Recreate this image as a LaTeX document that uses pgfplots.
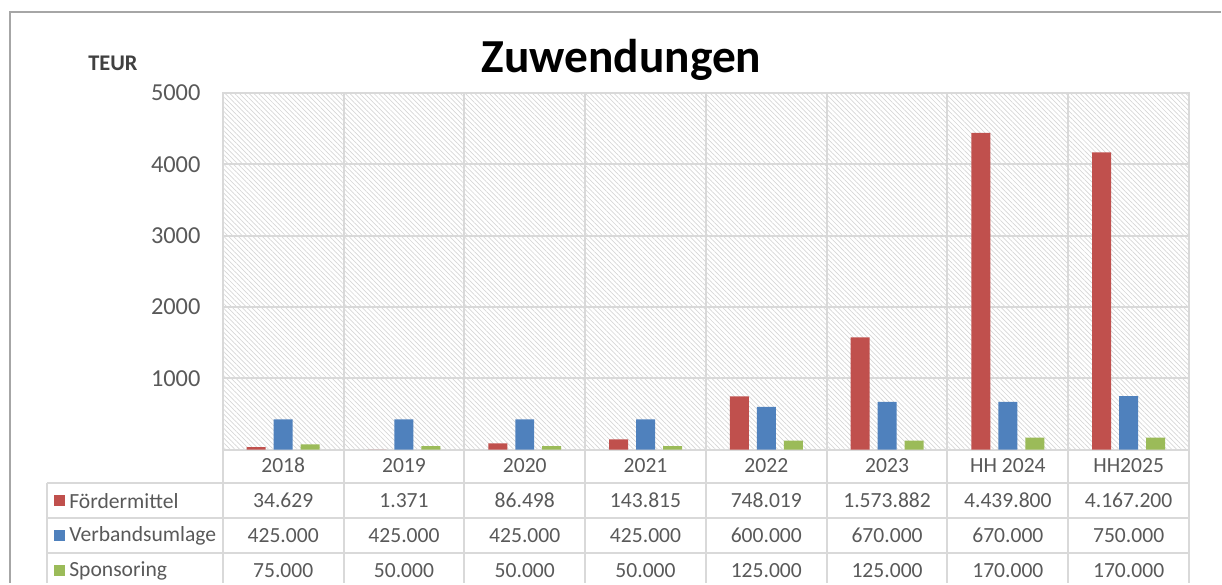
\documentclass[border=0pt]{standalone}
\usepackage{pgfplots}
\pgfplotsset{compat=1.18}
\usepackage{fontspec}
\setmainfont{Carlito}
\usetikzlibrary{patterns.meta}
\definecolor{cRed}{HTML}{C0504D}
\definecolor{cBlue}{HTML}{4F81BD}
\definecolor{cGreen}{HTML}{9BBB59}
\definecolor{gridgray}{HTML}{D9D9D9}
\definecolor{hatchgray}{HTML}{D6D6D6}
\definecolor{txtgray}{HTML}{595959}
\definecolor{framegray}{HTML}{A6A6A6}
\begin{document}
\begin{tikzpicture}
\begin{scope}[shift={(-111.5pt,225pt)},x=0.5pt,y=-0.5pt]
  \useasboundingbox (0,0) rectangle (1222,583);
\end{scope}
\begin{axis}[
  at={(0,0)}, anchor=south west,
  scale only axis, width=483.5pt, height=178.5pt,
  xmin=-0.5, xmax=7.5, ymin=0, ymax=5000,
  ybar=4pt, bar width=9.5pt,
  xtick={-0.5,0.5,...,7.5}, xticklabels={},
  ytick={1000,2000,3000,4000,5000},
  xmajorgrids, ymajorgrids,
  major tick length=0pt,
  grid style={draw=gridgray, line width=1pt},
  axis line style={draw=gridgray, line width=1pt},
  axis background/.style={pattern={Lines[angle=-45,distance=1.7pt,line width=0.35pt]}, pattern color=hatchgray},
  /pgf/number format/assume math mode=true,
  /pgf/number format/1000 sep={},
  scaled y ticks=false,
  yticklabel style={font=\fontsize{12.2}{12.2}\selectfont, text=txtgray, inner sep=0pt, anchor=east, xshift=-11pt},
  clip=false,
]
\addplot[fill=cRed, draw=none] coordinates {(0,34.629) (1,1.371) (2,86.498) (3,143.815) (4,748.019) (5,1573.882) (6,4439.8) (7,4167.2)};
\addplot[fill=cBlue, draw=none] coordinates {(0,425) (1,425) (2,425) (3,425) (4,600) (5,670) (6,670) (7,750)};
\addplot[fill=cGreen, draw=none] coordinates {(0,75) (1,50) (2,50) (3,50) (4,125) (5,125) (6,170) (7,170)};
\end{axis}
\begin{scope}[shift={(-111.5pt,225pt)},x=0.5pt,y=-0.5pt]
  % outer frame
  \draw[framegray, line width=1pt] (10,583) -- (10,12) -- (1222,12);
  % title and unit
  \node[font=\fontsize{23.7}{23.7}\selectfont\bfseries, text=black] at (622,60) {Zuwendungen};
  \node[font=\fontsize{11.2}{11.2}\selectfont\bfseries, text=black!75] at (113,63) {TEUR};
  % table lines
  \foreach \k in {0,...,8} \draw[gridgray, line width=1pt] ({223+\k*120.875},450) -- ({223+\k*120.875},583);
  \draw[gridgray, line width=1pt] (47,483) -- (47,583);
  \foreach \yy in {483,518,553} \draw[gridgray, line width=1pt] (47,\yy) -- (1190,\yy);
  % header
  \foreach \lab [count=\i from 0] in {2018,2019,2020,2021,2022,2023,HH 2024,HH2025}
    \node[font=\fontsize{10.8}{10.8}\selectfont, text=txtgray] at ({283.44+\i*120.875},466) {\lab};
  \foreach \v [count=\i from 0] in {34.629,1.371,86.498,143.815,748.019,1.573.882,4.439.800,4.167.200}
    \node[font=\fontsize{10.8}{10.8}\selectfont, text=txtgray] at ({283.44+\i*120.875},501) {\v};
  \foreach \v [count=\i from 0] in {425.000,425.000,425.000,425.000,600.000,670.000,670.000,750.000}
    \node[font=\fontsize{10.8}{10.8}\selectfont, text=txtgray] at ({283.44+\i*120.875},536) {\v};
  \foreach \v [count=\i from 0] in {75.000,50.000,50.000,50.000,125.000,125.000,170.000,170.000}
    \node[font=\fontsize{10.8}{10.8}\selectfont, text=txtgray] at ({283.44+\i*120.875},571) {\v};
  % row labels with legend keys
  \fill[cRed] (54,495) rectangle (65,506);
  \fill[cBlue] (54,530) rectangle (65,541);
  \fill[cGreen] (54,565) rectangle (65,576);
  \node[font=\fontsize{10.8}{10.8}\selectfont, text=txtgray, anchor=west, inner sep=0pt] at (69,501) {Fördermittel};
  \node[font=\fontsize{10.8}{10.8}\selectfont, text=txtgray, anchor=west, inner sep=0pt] at (69,536) {Verbandsumlage};
  \node[font=\fontsize{10.8}{10.8}\selectfont, text=txtgray, anchor=west, inner sep=0pt] at (69,571) {Sponsoring};
\end{scope}
\end{tikzpicture}
\end{document}
